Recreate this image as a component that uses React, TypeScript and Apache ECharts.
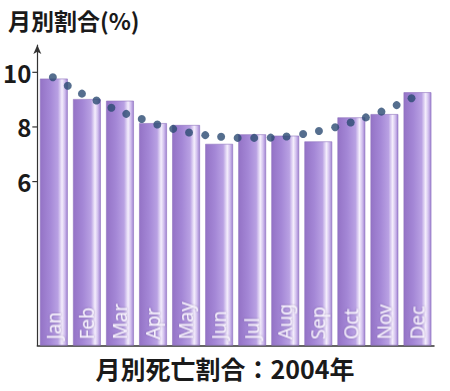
import React, { useEffect, useRef } from "react";
import * as echarts from "echarts";

const months = ["Jan", "Feb", "Mar", "Apr", "May", "Jun", "Jul", "Aug", "Sep", "Oct", "Nov", "Dec"];
const monthShare = [9.77, 9.02, 8.96, 8.14, 8.07, 7.38, 7.73, 7.68, 7.47, 8.35, 8.47, 9.27];
// smooth trend dots: [position along months (0..12), value]
const trendX = [0.47, 0.92, 1.35, 1.79, 2.24, 2.69, 3.16, 3.63, 4.11, 4.59, 5.08, 5.56, 6.06, 6.56, 7.06, 7.54, 8.04, 8.52, 9.01, 9.48, 9.94, 10.41, 10.87, 11.32];
const trendY = [9.82, 9.51, 9.22, 8.97, 8.7, 8.48, 8.29, 8.09, 7.93, 7.8, 7.7, 7.64, 7.6, 7.6, 7.61, 7.65, 7.74, 7.85, 7.99, 8.16, 8.35, 8.56, 8.8, 9.05];
const yTicks = [6, 8, 10];
const yTitle = "月別割合(%)";
const xTitle = "月別死亡割合：2004年";

export default function App() {
  const ref = useRef<HTMLDivElement>(null);
  useEffect(() => {
    document.body.style.margin = "0";
    if (!ref.current) return;
    const chart = echarts.init(ref.current, null, { renderer: "svg" });
    const barColor = new echarts.graphic.LinearGradient(0, 0, 1, 0, [
      { offset: 0, color: "#9473c6" },
      { offset: 0.35, color: "#a487d6" },
      { offset: 0.65, color: "#b9a1e3" },
      { offset: 0.8, color: "#f4eefc" },
      { offset: 0.9, color: "#d2c0ee" },
      { offset: 1, color: "#a083d2" },
    ]);
    chart.setOption({
      animation: false,
      backgroundColor: "#ffffff",
      title: [
        {
          text: yTitle,
          left: 3,
          top: 3,
          textStyle: { fontFamily: "Noto Sans CJK JP", fontWeight: "bold", fontSize: 23, color: "#1a1a1a" },
        },
        {
          text: xTitle,
          left: "center",
          top: 350,
          textStyle: { fontFamily: "Noto Sans CJK JP", fontWeight: "bold", fontSize: 25, color: "#1a1a1a" },
        },
      ],
      grid: { left: 37, right: 16, top: 45, bottom: 45.5, containLabel: false },
      xAxis: [
        {
          type: "category",
          data: months,
          boundaryGap: true,
          axisLine: { show: true, lineStyle: { color: "#333", width: 1.5 } },
          axisTick: { show: false },
          axisLabel: { show: false },
          splitLine: { show: false },
        },
        { type: "value", min: 0, max: 12, show: false },
      ],
      yAxis: {
        type: "value",
        min: 0,
        max: 11,
        interval: 2,
        splitLine: { show: false },
        axisTick: { show: false },
        axisLine: {
          show: true,
          symbol: ["none", "arrow"],
          symbolSize: [6, 9],
          lineStyle: { color: "#333", width: 1.2 },
        },
        axisLabel: {
          margin: 6,
          formatter: (v: number) => (yTicks.indexOf(v) >= 0 ? String(v) : ""),
          fontFamily: "Noto Sans CJK JP",
          fontWeight: "bold",
          fontSize: 24,
          color: "#1a1a1a",
        },
      },
      series: [
        {
          type: "bar",
          data: monthShare,
          barCategoryGap: "16%",
          itemStyle: { color: barColor, borderColor: "#8e72bd", borderWidth: 0.6 },
          label: {
            show: true,
            position: "insideBottom",
            rotate: 90,
            align: "left",
            verticalAlign: "middle",
            distance: 7,
            offset: [-1, 0],
            formatter: "{b}",
            fontFamily: "Liberation Sans Narrow, Noto Sans",
            fontSize: 19,
            color: "#f7f2fd",
            textShadowColor: "rgba(80,50,120,0.5)",
            textShadowBlur: 2,
          },
          z: 2,
        },
        {
          type: "scatter",
          xAxisIndex: 1,
          data: trendX.map((x, i) => [x, trendY[i]]),
          symbolSize: 8,
          itemStyle: { color: "#2b4a72" },
          z: 5,
        },
        {
          type: "custom",
          xAxisIndex: 1,
          data: yTicks.map((v) => [0, v]),
          clip: false,
          renderItem: (params: any, api: any) => {
            const p = api.coord([0, api.value(1)]);
            return {
              type: "line",
              shape: { x1: p[0] - 5, y1: p[1], x2: p[0], y2: p[1] },
              style: { stroke: "#333", lineWidth: 1.2 },
            };
          },
          z: 6,
        },
      ],
    });
    return () => chart.dispose();
  }, []);
  return <div ref={ref} style={{ width: 450, height: 391 }} />;
}
